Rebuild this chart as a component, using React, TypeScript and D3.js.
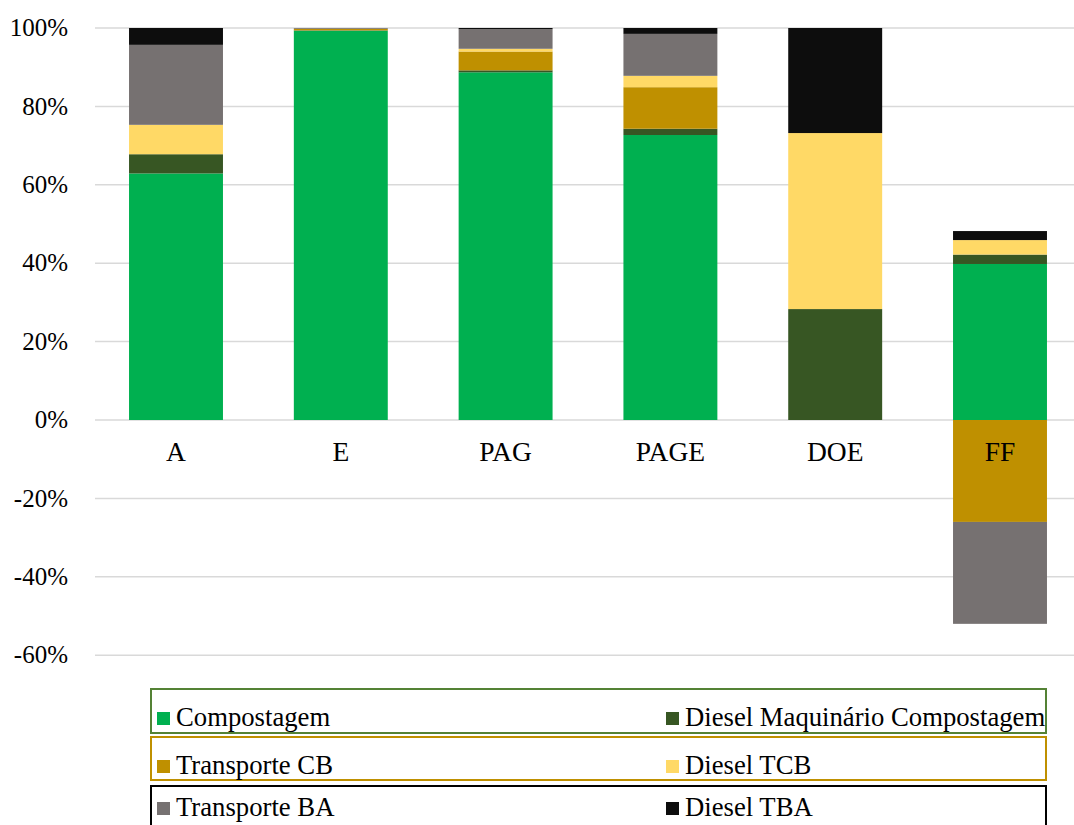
import { useEffect, useRef } from 'react';
import * as d3 from 'd3';

const categories = ['A', 'E', 'PAG', 'PAGE', 'DOE', 'FF'];

const seriesNames = [
  'Compostagem',
  'Diesel Maquinário Compostagem',
  'Transporte CB',
  'Diesel TCB',
  'Transporte BA',
  'Diesel TBA',
];

// values in %
const compostagem = [62.9, 99.3, 88.7, 72.7, 0, 39.8];
const dieselMaquinario = [4.9, 0.1, 0.5, 1.6, 28.3, 2.4];
const transporteCB = [0, 0.4, 4.8, 10.6, 0, -26.0];
const dieselTCB = [7.5, 0, 0.7, 2.9, 44.9, 3.7];
const transporteBA = [20.4, 0.2, 5.0, 10.7, 0, -26.0];
const dieselTBA = [4.3, 0, 0.3, 1.5, 26.8, 2.3];

const colors = ['#00B050', '#375623', '#BF9000', '#FFD966', '#767171', '#0D0D0D'];
const yTicks = [100, 80, 60, 40, 20, 0, -20, -40, -60];

const legendRows = [
  { items: [0, 1], border: '#548235' },
  { items: [2, 3], border: '#BF9000' },
  { items: [4, 5], border: '#000000' },
];

const App = () => {
  const ref = useRef<SVGSVGElement | null>(null);

  useEffect(() => {
    if (!ref.current) return;
    const svg = d3.select(ref.current);
    svg.selectAll('*').remove();
    const width = 1074;
    const height = 825;
    const font = '"Liberation Serif", "Times New Roman", serif';

    svg.attr('width', width).attr('height', height);

    const x = d3.scaleBand().domain(categories).range([93.6, 1082.4]).paddingInner(0.43).paddingOuter(0.215);
    const y = d3.scaleLinear().domain([-60, 100]).range([655.2, 28]);

    // gridlines
    svg
      .append('g')
      .selectAll('line')
      .data(yTicks)
      .join('line')
      .attr('x1', 95)
      .attr('x2', width)
      .attr('y1', (d) => y(d))
      .attr('y2', (d) => y(d))
      .attr('stroke', '#D9D9D9')
      .attr('stroke-width', 1.5);

    svg
      .append('g')
      .selectAll('text')
      .data(yTicks)
      .join('text')
      .attr('x', 68)
      .attr('y', (d) => y(d))
      .attr('dy', '0.33em')
      .attr('text-anchor', 'end')
      .attr('font-family', font)
      .attr('font-size', 25)
      .attr('fill', '#000')
      .text((d) => `${d}%`);

    const allSeries = [compostagem, dieselMaquinario, transporteCB, dieselTCB, transporteBA, dieselTBA];
    const rows = categories.map((c, i) => {
      const r: Record<string, number | string> = { cat: c };
      seriesNames.forEach((s, j) => (r[s] = allSeries[j][i]));
      return r;
    });

    const stack = d3
      .stack<Record<string, number | string>>()
      .keys(seriesNames)
      .value((d, k) => d[k] as number)
      .offset(d3.stackOffsetDiverging);
    const stacked = stack(rows);

    svg
      .append('g')
      .selectAll('g')
      .data(stacked)
      .join('g')
      .attr('fill', (_, i) => colors[i])
      .selectAll('rect')
      .data((d) => d)
      .join('rect')
      .attr('x', (d) => x(d.data.cat as string)!)
      .attr('width', x.bandwidth())
      .attr('y', (d) => y(Math.max(d[0], d[1])))
      .attr('height', (d) => Math.abs(y(d[0]) - y(d[1])));

    // category labels
    svg
      .append('g')
      .selectAll('text')
      .data(categories)
      .join('text')
      .attr('x', (d) => x(d)! + x.bandwidth() / 2)
      .attr('y', 461)
      .attr('text-anchor', 'middle')
      .attr('font-family', font)
      .attr('font-size', 27.5)
      .attr('fill', '#000')
      .text((d) => d);

    // legend
    const legendTop = [689, 737, 786];
    const legendH = [44, 43, 50];
    const colX = [157, 666];
    const lg = svg.append('g');
    legendRows.forEach((row, ri) => {
      lg.append('rect')
        .attr('x', 151)
        .attr('y', legendTop[ri])
        .attr('width', 895)
        .attr('height', legendH[ri])
        .attr('fill', 'none')
        .attr('stroke', row.border)
        .attr('stroke-width', 2);
      row.items.forEach((si, ci) => {
        const base = legendTop[ri] + (ri === 2 ? 30 : 37);
        lg.append('rect')
          .attr('x', colX[ci])
          .attr('y', base - 14)
          .attr('width', 13)
          .attr('height', 13)
          .attr('fill', colors[si]);
        lg.append('text')
          .attr('x', colX[ci] + 19)
          .attr('y', base)
          .attr('font-family', font)
          .attr('font-size', 26.7)
          .attr('fill', '#000')
          .text(seriesNames[si]);
      });
    });
  }, []);

  return <svg ref={ref} style={{ position: 'absolute', left: 0, top: 0 }} />;
};

export default App;
